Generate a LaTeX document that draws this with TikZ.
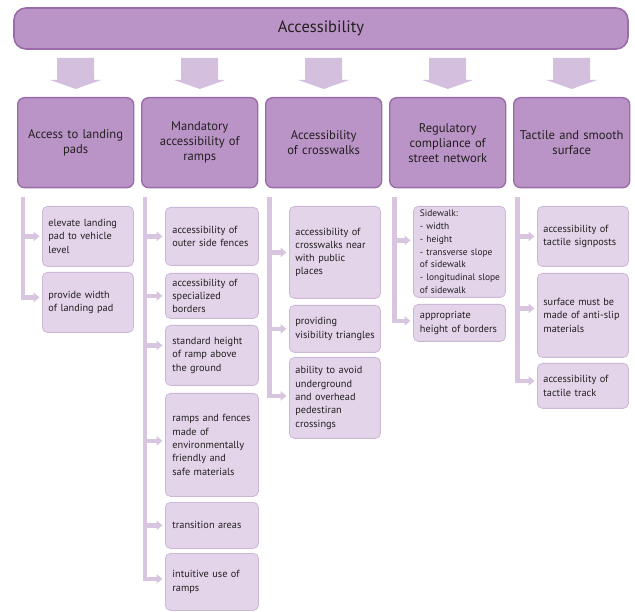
\documentclass[tikz,border=0pt]{standalone}
\usepackage{fontspec}
\setmainfont{PT Sans}
\usetikzlibrary{arrows.meta,calc}
\definecolor{topfill}{HTML}{BA94C6}
\definecolor{topline}{HTML}{9A6CAA}
\definecolor{arrowfill}{HTML}{D5BFDE}
\definecolor{childfill}{HTML}{E3D4E9}
\definecolor{childline}{HTML}{CDB7D6}
\definecolor{linkcol}{HTML}{D8C5E0}
\definecolor{txt}{HTML}{231F20}
\hyphenpenalty=10000
\exhyphenpenalty=10000
\begin{document}
\begin{tikzpicture}[x=1pt,y=-1pt,
  topbox/.style={draw=topline, fill=topfill, line width=1.6pt, rounded corners=12pt,
    minimum width=614pt, minimum height=41pt, inner sep=0pt,
    font=\fontsize{16.5}{19}\selectfont, text=txt},
  headbox/.style={draw=topline, fill=topfill, line width=1.4pt, rounded corners=7pt,
    minimum width=116pt, minimum height=90pt, anchor=north west, align=center,
    text width=112pt, inner sep=0pt, font=\fontsize{12.6}{15}\selectfont, text=txt},
  childbox/.style={draw=childline, fill=childfill, line width=0.8pt, rounded corners=5pt,
    anchor=north west, align=left, text width=79pt, inner xsep=6pt, inner ysep=0pt,
    font=\fontsize{10.3}{13.3}\selectfont, text=txt},
  link/.style={draw=linkcol, line width=4.5pt, line join=miter},
  linkarrow/.style={link, -{Triangle[length=6pt,width=9.5pt]}, shorten >=2.5pt},
  downarrow/.style={fill=arrowfill}
]
\useasboundingbox (0,0) rectangle (635,612);

% top bar
\node[topbox] (top) at (321,28.5) {Accessibility};

% headers
\node[headbox] (h1) at (17,97)  {Access to landing\\pads};
\node[headbox] (h2) at (141,97) {Mandatory\\accessibility of\\ramps};
\node[headbox] (h3) at (265,97) {Accessibility\\of crosswalks};
\node[headbox] (h4) at (389,97) {Regulatory\\compliance of\\street network};
\node[headbox] (h5) at (513,97) {Tactile and smooth\\surface};

% block arrows from top bar to headers
\foreach \h in {h1,h2,h3,h4,h5}{
  \fill[downarrow] ($(\h.north)+(-18.5,-39)$) -- ($(\h.north)+(18.5,-39)$)
    -- ($(\h.north)+(18.5,-17)$) -- ($(\h.north)+(25.5,-17)$)
    -- ($(\h.north)+(0,-8)$) -- ($(\h.north)+(-25.5,-17)$)
    -- ($(\h.north)+(-18.5,-17)$) -- cycle;
}

% column 1
\node[childbox, minimum width=91pt, minimum height=60pt] (a1) at (42,206) {elevate landing\\pad to vehicle\\level};
\node[childbox, minimum width=91pt, minimum height=60pt] (a2) at (42,272) {provide width\\of landing pad};

% column 2
\node[childbox, minimum width=93pt, minimum height=58pt] (b1) at (165,207) {accessibility of\\\mbox{outer side fences}};
\node[childbox, minimum width=93pt, minimum height=45pt] (b2) at (165,273) {accessibility of\\specialized\\borders};
\node[childbox, minimum width=93pt, minimum height=60pt] (b3) at (165,325) {standard height\\of ramp above\\the ground};
\node[childbox, minimum width=93pt, minimum height=103pt] (b4) at (165,393) {\mbox{ramps and fences}\\made of\\environmentally\\friendly and\\safe materials};
\node[childbox, minimum width=93pt, minimum height=46pt] (b5) at (165,502) {transition areas};
\node[childbox, minimum width=93pt, minimum height=57pt] (b6) at (165,553) {intuitive use of\\ramps};

% column 3
\node[childbox, minimum width=91pt, minimum height=92pt] (d1) at (289,206) {accessibility of\\\mbox{crosswalks near}\\with public\\places};
\node[childbox, minimum width=91pt, minimum height=47pt] (d2) at (289,305) {providing\\\mbox{visibility triangles}};
\node[childbox, minimum width=91pt, minimum height=81pt] (d3) at (289,357) {ability to avoid\\underground\\and overhead\\pedestiran\\crossings};

% column 4
\node[childbox, minimum width=92pt, minimum height=91pt, font=\fontsize{9.4}{12.8}\selectfont] (e1) at (413,206) {Sidewalk:\\- width\\- height\\\mbox{- transverse slope}\\of sidewalk\\\mbox{- longitudinal slope}\\of sidewalk};
\node[childbox, minimum width=92pt, minimum height=37pt] (e2) at (413,304) {appropriate\\\mbox{height of borders}};

% column 5
\node[childbox, minimum width=91pt, minimum height=60pt] (f1) at (537,206) {accessibility of\\\mbox{tactile signposts}};
\node[childbox, minimum width=91pt, minimum height=84pt] (f2) at (537,273) {surface must be\\\mbox{made of anti-slip}\\materials};
\node[childbox, minimum width=91pt, minimum height=45pt] (f3) at (537,363) {accessibility of\\tactile track};

% connector start points
\coordinate (v1) at (23,197);
\coordinate (v2) at (145,197);
\coordinate (v3) at (269.5,197);
\coordinate (v4) at (394.5,197);
\coordinate (v5) at (517.5,197);

% column 1 connectors
\draw[linkarrow] (v1) |- ([yshift=5pt]a2.west);
\draw[linkarrow] (v1 |- a1.west) -- (a1.west);

% column 2 connectors
\draw[linkarrow] (v2) |- ([yshift=3pt]b6.west);
\draw[linkarrow] (v2 |- b1.west) -- (b1.west);
\draw[linkarrow] (v2 |- b2.west) -- (b2.west);
\draw[linkarrow] ([yshift=10pt]v2 |- b3.west) -- ([yshift=10pt]b3.west);
\draw[linkarrow] ([yshift=4pt]v2 |- b4.west) -- ([yshift=4pt]b4.west);
\draw[linkarrow] (v2 |- b5.west) -- (b5.west);

% column 3 connectors
\draw[linkarrow] (v3) |- ([yshift=2pt]d3.west);
\draw[linkarrow] (v3 |- d1.west) -- (d1.west);
\draw[linkarrow] (v3 |- d2.west) -- (d2.west);

% column 4 connectors
\draw[linkarrow] (v4) |- ([yshift=2pt]e2.west);
\draw[linkarrow] ([yshift=11.5pt]v4 |- e1.west) -- ([yshift=11.5pt]e1.west);

% column 5 connectors
\draw[linkarrow] (v5) |- ([yshift=5pt]f3.west);
\draw[linkarrow] (v5 |- f1.west) -- (f1.west);
\draw[linkarrow] ([yshift=7pt]v5 |- f2.west) -- ([yshift=7pt]f2.west);
\end{tikzpicture}
\end{document}
